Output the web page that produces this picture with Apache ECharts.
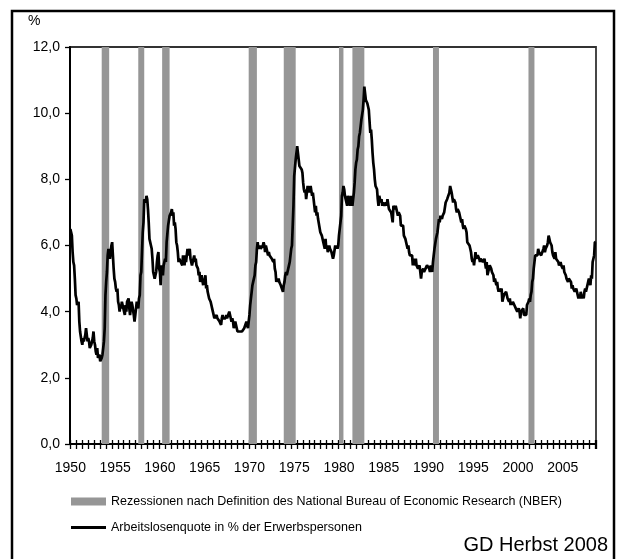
<!DOCTYPE html>
<html>
<head>
<meta charset="utf-8">
<script src="https://cdn.jsdelivr.net/npm/echarts@6/dist/echarts.min.js"></script>
<style>html,body{margin:0;padding:0;background:#fff}#c{width:617px;height:559px}</style>
</head>
<body>
<div id="c"></div>
<script>
// Monthly unemployment rate (%), Jan 1950 - Sep 2008
const firstYear = 1950;
const unemploymentRate = [
6.5,6.4,6.3,5.8,5.5,5.4,5.0,4.5,4.4,4.2,4.2,4.3,
3.7,3.4,3.4,3.1,3.0,3.2,3.1,3.1,3.3,3.5,3.5,3.1,
3.2,3.1,2.9,2.9,3.0,3.0,3.2,3.4,3.1,3.0,2.8,2.7,
2.9,2.6,2.6,2.7,2.5,2.5,2.6,2.7,2.9,3.1,3.5,4.5,
4.9,5.2,5.7,5.9,5.9,5.6,5.8,6.0,6.1,5.7,5.3,5.0,
4.9,4.7,4.6,4.7,4.3,4.2,4.0,4.2,4.1,4.3,4.2,4.2,
4.0,3.9,4.2,4.0,4.3,4.3,4.4,4.1,3.9,3.9,4.3,4.2,
4.2,3.9,3.7,3.9,4.1,4.3,4.2,4.1,4.4,4.5,5.1,5.2,
5.8,6.4,6.7,7.4,7.4,7.3,7.5,7.4,7.1,6.7,6.2,6.2,
6.0,5.9,5.6,5.2,5.1,5.0,5.1,5.2,5.5,5.7,5.8,5.3,
5.2,4.8,5.4,5.2,5.1,5.4,5.5,5.6,5.5,6.1,6.1,6.6,
6.6,6.9,6.9,7.0,7.1,6.9,7.0,6.6,6.7,6.5,6.1,6.0,
5.8,5.5,5.6,5.6,5.5,5.5,5.4,5.7,5.6,5.4,5.7,5.5,
5.7,5.9,5.7,5.7,5.9,5.6,5.6,5.4,5.5,5.5,5.7,5.5,
5.6,5.4,5.4,5.3,5.1,5.2,4.9,5.0,5.1,5.1,4.8,5.0,
4.9,5.1,4.7,4.8,4.6,4.6,4.4,4.4,4.3,4.2,4.1,4.0,
4.0,3.8,3.8,3.8,3.9,3.8,3.8,3.8,3.7,3.7,3.6,3.8,
3.9,3.8,3.8,3.8,3.8,3.9,3.8,3.8,3.8,4.0,3.9,3.8,
3.7,3.8,3.7,3.5,3.5,3.7,3.7,3.5,3.4,3.4,3.4,3.4,
3.4,3.4,3.4,3.4,3.4,3.5,3.5,3.5,3.7,3.7,3.5,3.5,
3.9,4.2,4.4,4.6,4.8,4.9,5.0,5.1,5.4,5.5,5.9,6.1,
5.9,5.9,6.0,5.9,5.9,5.9,6.0,6.1,6.0,5.8,6.0,6.0,
5.8,5.7,5.8,5.7,5.7,5.7,5.6,5.6,5.5,5.6,5.3,5.2,
4.9,5.0,4.9,5.0,4.9,4.9,4.8,4.8,4.8,4.6,4.8,4.9,
5.1,5.2,5.1,5.1,5.1,5.4,5.5,5.5,5.9,6.0,6.6,7.2,
8.1,8.1,8.6,8.8,9.0,8.8,8.6,8.4,8.4,8.4,8.3,8.2,
7.9,7.7,7.6,7.7,7.4,7.6,7.8,7.8,7.6,7.7,7.8,7.8,
7.5,7.6,7.4,7.2,7.0,7.2,6.9,7.0,6.8,6.8,6.8,6.4,
6.4,6.3,6.3,6.1,6.0,5.9,6.2,5.9,6.0,5.8,5.9,6.0,
5.9,5.9,5.8,5.8,5.6,5.7,5.7,6.0,5.9,6.0,5.9,6.0,
6.3,6.3,6.3,6.9,7.5,7.6,7.8,7.7,7.5,7.5,7.5,7.2,
7.5,7.4,7.4,7.2,7.5,7.5,7.2,7.4,7.6,7.9,8.3,8.5,
8.6,8.9,9.0,9.3,9.4,9.6,9.8,9.8,10.1,10.4,10.8,10.8,
10.4,10.4,10.3,10.2,10.1,10.1,9.4,9.5,9.2,8.8,8.5,8.3,
8.0,7.8,7.8,7.7,7.4,7.2,7.5,7.5,7.3,7.4,7.2,7.3,
7.3,7.2,7.2,7.3,7.2,7.4,7.4,7.1,7.1,7.1,7.0,7.0,
6.7,7.2,7.2,7.1,7.2,7.2,7.0,6.9,7.0,7.0,6.9,6.6,
6.6,6.6,6.6,6.3,6.3,6.2,6.1,6.0,5.9,6.0,5.8,5.7,
5.7,5.7,5.7,5.4,5.6,5.4,5.4,5.6,5.4,5.4,5.3,5.3,
5.4,5.2,5.0,5.2,5.2,5.3,5.2,5.2,5.3,5.3,5.4,5.4,
5.4,5.3,5.2,5.4,5.4,5.2,5.5,5.7,5.9,5.9,6.2,6.3,
6.4,6.6,6.8,6.7,6.9,6.9,6.8,6.9,6.9,7.0,7.0,7.3,
7.3,7.4,7.4,7.4,7.6,7.8,7.7,7.6,7.6,7.3,7.4,7.4,
7.3,7.1,7.0,7.1,7.1,7.0,6.9,6.8,6.7,6.8,6.6,6.5,
6.6,6.6,6.5,6.4,6.1,6.1,6.1,6.0,5.9,5.8,5.6,5.5,
5.6,5.4,5.4,5.8,5.6,5.6,5.7,5.7,5.6,5.5,5.6,5.6,
5.6,5.5,5.5,5.6,5.6,5.3,5.5,5.1,5.2,5.2,5.4,5.4,
5.3,5.2,5.2,5.1,4.9,5.0,4.9,4.8,4.9,4.7,4.6,4.7,
4.6,4.6,4.7,4.3,4.4,4.5,4.5,4.5,4.6,4.5,4.4,4.4,
4.3,4.4,4.2,4.3,4.2,4.3,4.3,4.2,4.2,4.1,4.1,4.0,
4.0,4.1,4.0,3.8,4.0,4.0,4.0,4.1,3.9,3.9,3.9,3.9,
4.2,4.2,4.3,4.4,4.3,4.5,4.6,4.9,5.0,5.3,5.5,5.7,
5.7,5.7,5.7,5.9,5.8,5.8,5.8,5.7,5.7,5.7,5.9,6.0,
5.8,5.9,5.9,6.0,6.1,6.3,6.2,6.1,6.1,6.0,5.8,5.7,
5.7,5.6,5.8,5.6,5.6,5.6,5.5,5.4,5.4,5.5,5.4,5.4,
5.3,5.4,5.2,5.2,5.1,5.0,5.0,4.9,5.0,5.0,5.0,4.9,
4.7,4.8,4.7,4.7,4.6,4.6,4.7,4.7,4.5,4.4,4.5,4.4,
4.6,4.5,4.4,4.5,4.4,4.6,4.7,4.6,4.7,4.7,4.7,5.0,
4.9,4.8,5.1,5.0,5.5,5.5,5.7,6.1,6.1
];
// NBER recessions (peak month, trough month)
const recessionStart = ['1953-07','1957-08','1960-04','1969-12','1973-11','1980-01','1981-07','1990-07','2001-03'];
const recessionEnd   = ['1954-05','1958-04','1961-02','1970-11','1975-03','1980-07','1982-11','1991-03','2001-11'];
const yTicks = [0, 2, 4, 6, 8, 10, 12];
const recessionName = 'Rezessionen nach Definition des National Bureau of Economic Research (NBER)';
const lineName = 'Arbeitslosenquote in % der Erwerbspersonen';

const months = [];
for (let i = 0; i < unemploymentRate.length; i++) {
  const y = firstYear + Math.floor(i / 12), m = (i % 12) + 1;
  months.push(y + '-' + (m < 10 ? '0' + m : m));
}
const font = '"Liberation Sans", Arial, sans-serif';
const chart = echarts.init(document.getElementById('c'), null, {renderer: 'canvas'});
chart.setOption({
  animation: false,
  backgroundColor: '#fff',
  grid: {left: 70, top: 47, right: 21, bottom: 115, show: true, borderColor: '#333', borderWidth: 1.8, backgroundColor: 'transparent'},
  xAxis: [{
    type: 'category', data: months, boundaryGap: true,
    axisLine: {lineStyle: {color: '#000', width: 2}},
    axisTick: {show: true, interval: 7, length: 5, lineStyle: {color: '#000', width: 1.3}},
    axisLabel: {interval: 59, margin: 17, color: '#000', fontSize: 14, fontFamily: font,
      formatter: v => v.slice(0, 4)},
    splitLine: {show: false}
  }, {
    type: 'category', data: months, boundaryGap: true, position: 'bottom',
    axisLine: {show: false},
    axisTick: {show: true, inside: true, interval: 7, length: 4, lineStyle: {color: '#000', width: 1.3}},
    axisLabel: {show: false}, splitLine: {show: false}
  }],
  yAxis: {
    type: 'value', min: yTicks[0], max: yTicks[yTicks.length - 1], interval: 2,
    axisLine: {show: true, lineStyle: {color: '#000', width: 2}},
    axisTick: {show: true, length: 5, lineStyle: {color: '#000', width: 1.3}},
    axisLabel: {margin: 10, color: '#000', fontSize: 14, fontFamily: font,
      formatter: v => v.toFixed(1).replace('.', ',')},
    splitLine: {show: false}
  },
  legend: [{
    data: [{name: recessionName, icon: 'rect'}],
    left: 66, top: 490, itemWidth: 35, itemHeight: 8,
    textStyle: {fontSize: 12.5, color: '#000', fontFamily: font}, selectedMode: false
  }, {
    data: [{name: lineName, icon: 'rect'}],
    left: 66, top: 516, itemWidth: 35, itemHeight: 3,
    textStyle: {fontSize: 12.5, color: '#000', fontFamily: font}, selectedMode: false
  }],
  graphic: [
    {type: 'rect', shape: {x: 12, y: 11, width: 602, height: 600}, style: {fill: 'none', stroke: '#000', lineWidth: 2.5}, silent: true},
    {type: 'text', left: 28, top: 14, style: {text: '%', fontSize: 14, fontFamily: font, fill: '#000'}},
    {type: 'text', right: 9, top: 535, style: {text: 'GD Herbst 2008', fontSize: 20, fontFamily: font, fill: '#000'}}
  ],
  series: [{
    name: recessionName, type: 'bar', data: [], itemStyle: {color: '#969696'}
  }, {
    name: lineName, type: 'line', data: unemploymentRate, showSymbol: false, symbol: 'none',
    lineStyle: {color: '#000', width: 2.7}, itemStyle: {color: '#000'},
    z: 5,
    markArea: {
      silent: true,
      itemStyle: {color: '#969696', opacity: 1},
      data: recessionStart.map((s, i) => [{xAxis: s}, {xAxis: recessionEnd[i]}])
    }
  }]
});
</script>
</body>
</html>
